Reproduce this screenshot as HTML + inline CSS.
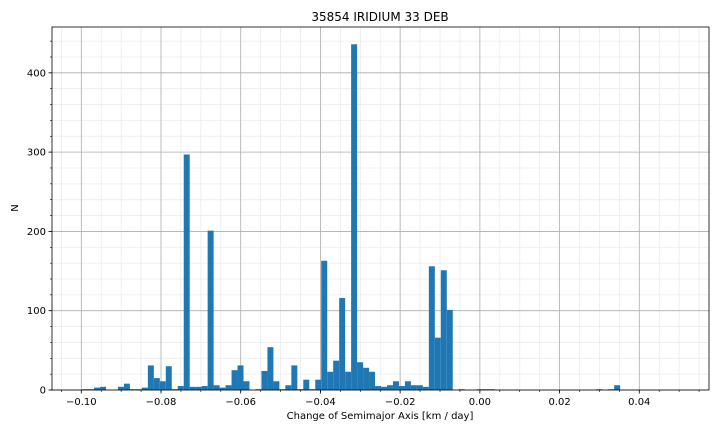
<!DOCTYPE html>
<html><head><meta charset="utf-8"><style>
html,body{margin:0;padding:0;background:#fff}
svg{display:block;font-family:"DejaVu Sans","Liberation Sans",sans-serif}
</style></head><body>
<svg id="chart" width="720" height="432" viewBox="0 0 720 432">
<g id="grid"></g>
<g id="bars"></g>
<g id="axes"></g>
<text x="380" y="21" text-anchor="middle" font-size="12" fill="#000">35854 IRIDIUM 33 DEB</text>
<text x="380" y="419" text-anchor="middle" font-size="10" fill="#000">Change of Semimajor Axis [km / day]</text>
<text x="18" y="208" text-anchor="middle" font-size="10" fill="#000" transform="rotate(-90 18 208)">N</text>
</svg>
<script>
const binStart = -0.0998;
const binWidth = 0.0015;
const counts = [1,1,3,4,0,0,4,8,1,1,3,31,15,11,30,1,5,297,4,4,5,201,6,3,6,25,31,11,0,1,
24,54,11,1,6,31,1,13,1,13,163,23,37,116,23,436,35,28,23,5,4,6,11,5,11,6,6,4,156,66,
151,101,0,1,0,0,1,1,1,0,0,0,0,0,0,0,0,0,0,0,0,0,0,0,0,0,1,0,1,6,
0,0,0,0,0,0,0,0,0,0];
const xTicks = [-0.10,-0.08,-0.06,-0.04,-0.02,0.00,0.02,0.04];
const xTickLabels = ["\u22120.10","\u22120.08","\u22120.06","\u22120.04","\u22120.02","0.00","0.02","0.04"];
const yTicks = [0,100,200,300,400];

const L=52,R=709,T=27,B=390;
const xMin=-0.10735,xMax=0.05749,yMin=0,yMax=457.8;
const X=v=>L+(v-xMin)/(xMax-xMin)*(R-L);
const Y=v=>B-(v-yMin)/(yMax-yMin)*(B-T);
const NS="http://www.w3.org/2000/svg";
function mk(tag,attrs,parent){const e=document.createElementNS(NS,tag);for(const k in attrs)e.setAttribute(k,attrs[k]);parent.appendChild(e);return e;}
const grid=document.getElementById('grid'),bars=document.getElementById('bars'),axes=document.getElementById('axes');

for(let v=-0.105;v<=0.0575;v+=0.005){const x=X(v);
 const l=mk('line',{x1:x,x2:x,y1:T,y2:B,stroke:'#ebebeb','stroke-width':0.8},grid);
 
 
 const t=mk('line',{x1:x,x2:x,y1:B,y2:B+2,stroke:'#000','stroke-width':0.6},axes);
 
 }
for(let v=0;v<=yMax;v+=20){const y=Y(v);
 const l=mk('line',{x1:L,x2:R,y1:y,y2:y,stroke:'#ebebeb','stroke-width':0.8},grid);
 
 
 const t=mk('line',{x1:L-2,x2:L,y1:y,y2:y,stroke:'#000','stroke-width':0.6},axes);
 
 }
xTicks.forEach((v,i)=>{const x=X(v);
 const l=mk('line',{x1:x,x2:x,y1:T,y2:B,stroke:'#b0b0b0','stroke-width':0.8},grid);
 
 
 const t=mk('line',{x1:x,x2:x,y1:B,y2:B+3.5,stroke:'#000','stroke-width':0.8},axes);
 
 
 const tx=mk('text',{x:x,y:B+15,'text-anchor':'middle','font-size':10},axes);
 tx.textContent=xTickLabels[i];
 
 });
yTicks.forEach(v=>{const y=Y(v);
 const l=mk('line',{x1:L,x2:R,y1:y,y2:y,stroke:'#b0b0b0','stroke-width':0.8},grid);
 
 
 const t=mk('line',{x1:L-3.5,x2:L,y1:y,y2:y,stroke:'#000','stroke-width':0.8},axes);
 
 
 const tx=mk('text',{x:L-6,y:y+3.5,'text-anchor':'end','font-size':10},axes);
 tx.textContent=String(v);
 
 });
counts.forEach((c,i)=>{if(c<=0)return;
 const x0=X(binStart+i*binWidth),x1=X(binStart+(i+1)*binWidth);
 const r=mk('rect',{x:x0,y:Y(c),width:x1-x0,height:Y(0)-Y(c),fill:'#1f77b4'},bars);
 
 });
const fr=mk('rect',{x:L,y:T,width:R-L,height:B-T,fill:'none',stroke:'#000','stroke-width':0.8},axes);


</script>
</body></html>
